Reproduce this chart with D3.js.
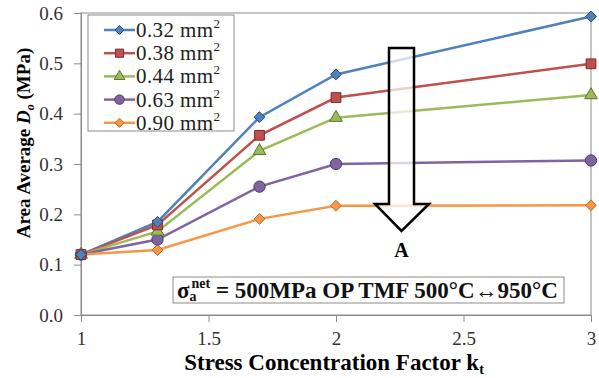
<!DOCTYPE html>
<html>
<head>
<meta charset="utf-8">
<script src="https://cdn.jsdelivr.net/npm/d3@7"></script>
<style>
  body { margin: 0; background: #fff; }
</style>
</head>
<body>
<div id="chart"></div>
<script>
// Area average Do vs stress concentration factor kt

const width = 599;
const height = 378;
const margin = { top: 13, right: 8, bottom: 63, left: 81 };
const serif = 'Liberation Serif';

// data
const ktValues = [1, 1.3, 1.7, 2, 3];
const seriesNames = ['0.32 mm', '0.38 mm', '0.44 mm', '0.63 mm', '0.90 mm'];
const s032 = [0.120, 0.185, 0.393, 0.478, 0.593];
const s038 = [0.120, 0.179, 0.357, 0.432, 0.499];
const s044 = [0.120, 0.166, 0.326, 0.392, 0.437];
const s063 = [0.120, 0.150, 0.255, 0.300, 0.307];
const s090 = [0.120, 0.129, 0.191, 0.217, 0.218];
const xTicks = [1, 1.5, 2, 2.5, 3];
const yTicks = [0, 0.1, 0.2, 0.3, 0.4, 0.5, 0.6];

const seriesValues = [s032, s038, s044, s063, s090];
const colors = ['#4f81bd', '#c0504d', '#9bbb59', '#8064a2', '#f79646'];
const strokeColors = ['#2c4d75', '#772c2a', '#5f7530', '#4d3b62', '#b66d31'];
const shapes = ['diamond', 'square', 'triangle', 'circle', 'diamond'];

// marker path generator: diamonds are squares turned 45 degrees
function marker(shape, scale) {
    const s = scale || 1;
    if (shape === 'diamond') return d3.symbol().type(d3.symbolDiamond2).size(75 * s)();
    if (shape === 'square') return d3.symbol().type(d3.symbolSquare).size(95 * s)();
    if (shape === 'triangle') return d3.symbol().type(d3.symbolTriangle).size(70 * s)();
    return d3.symbol().type(d3.symbolCircle).size(100 * s)();
}

const svg = d3.select('#chart')
    .append('svg')
    .attr('width', width)
    .attr('height', height);

const x = d3.scaleLinear()
    .domain([1, 3])
    .range([margin.left, width - margin.right]);

const y = d3.scaleLinear()
    .domain([0, 0.6])
    .range([height - margin.bottom, margin.top]);

// plot border
svg.append('rect')
    .attr('x', x(1))
    .attr('y', y(0.6))
    .attr('width', x(3) - x(1))
    .attr('height', y(0) - y(0.6))
    .attr('fill', 'none')
    .attr('stroke', '#8c8c8c')
    .attr('stroke-width', 1);

// axes
const xAxis = svg.append('g')
    .attr('transform', `translate(0,${y(0)})`)
    .call(d3.axisBottom(x).tickValues(xTicks).tickSize(7).tickPadding(10)
        .tickFormat(d => String(d)));

const yAxis = svg.append('g')
    .attr('transform', `translate(${x(1)},0)`)
    .call(d3.axisLeft(y).tickValues(yTicks).tickSize(7).tickPadding(11)
        .tickFormat(d3.format('.1f')));

[xAxis, yAxis].forEach(a => {
    a.select('.domain').attr('stroke', '#8c8c8c');
    a.selectAll('.tick line').attr('stroke', '#8c8c8c');
    a.selectAll('.tick text')
        .attr('font-size', '19px')
        .attr('fill', '#333');
});

// annotation box
const annoG = svg.append('g');
annoG.append('rect')
    .attr('x', 173)
    .attr('y', 277)
    .attr('width', 391)
    .attr('height', 26)
    .attr('fill', '#fff')
    .attr('stroke', '#8c8c8c');
const anno = annoG.append('text')
    .attr('x', 177)
    .attr('y', 298)
    .attr('font-size', '23px')
    .attr('font-weight', 'bold')
    .attr('fill', '#111');
anno.append('tspan').text('σ');
anno.append('tspan').attr('font-size', '14px').attr('dy', 3).text('a');
anno.append('tspan').attr('font-size', '14px').attr('dx', -5).attr('dy', -13).text('net');
anno.append('tspan').attr('dy', 10).text(' = 500MPa OP TMF 500°C↔950°C');

// lines
const line = d3.line()
    .x((d, i) => x(ktValues[i]))
    .y(d => y(d));

seriesValues.forEach((vals, k) => {
    svg.append('path')
        .datum(vals)
        .attr('d', line)
        .attr('fill', 'none')
        .attr('stroke', colors[k])
        .attr('stroke-width', 2.5);
});

// markers (drawn bottom-up so blue is on top)
for (let k = seriesValues.length - 1; k >= 0; k--) {
    svg.append('g')
        .selectAll('path')
        .data(seriesValues[k])
        .enter()
        .append('path')
        .attr('transform', (d, i) => `translate(${x(ktValues[i])},${y(d)})`)
        .attr('d', marker(shapes[k]))
        .attr('fill', colors[k])
        .attr('stroke', strokeColors[k])
        .attr('stroke-width', 1);
}

// arrow A (white, partly see-through)
const ax0 = 389, ax1 = 414, ayTop = 48, ayHead = 204, ahx0 = 375, ahx1 = 429, ayTip = 231;
svg.append('path')
    .attr('d', `M${ax0},${ayTop} L${ax1},${ayTop} L${ax1},${ayHead} L${ahx1},${ayHead} L${(ax0 + ax1) / 2},${ayTip} L${ahx0},${ayHead} L${ax0},${ayHead} Z`)
    .attr('fill', '#fff')
    .attr('fill-opacity', 0.72)
    .attr('stroke', '#000')
    .attr('stroke-width', 2.5)
    .attr('stroke-linejoin', 'miter');

svg.append('text')
    .attr('x', (ax0 + ax1) / 2)
    .attr('y', 257)
    .attr('text-anchor', 'middle')
    .attr('font-size', '20px')
    .attr('font-weight', 'bold')
    .text('A');

// legend
const legend = svg.append('g');
legend.append('rect')
    .attr('x', 88)
    .attr('y', 15)
    .attr('width', 146)
    .attr('height', 116)
    .attr('fill', '#fff')
    .attr('stroke', '#8c8c8c');

seriesNames.forEach((name, k) => {
    const ly = 30 + k * 23.2;
    legend.append('line')
        .attr('x1', 104).attr('x2', 135)
        .attr('y1', ly).attr('y2', ly)
        .attr('stroke', colors[k])
        .attr('stroke-width', 2.5);
    legend.append('path')
        .attr('transform', `translate(119.5,${ly})`)
        .attr('d', marker(shapes[k], 0.7))
        .attr('fill', colors[k])
        .attr('stroke', strokeColors[k]);
    const t = legend.append('text')
        .attr('x', 136)
        .attr('y', ly + 7)
        .attr('font-size', '21px')
        .attr('fill', '#222')
        .attr('letter-spacing', '0.4px');
    t.append('tspan').text(name);
    t.append('tspan').attr('font-size', '13px').attr('dy', -9).text('2');
});

// axis titles
svg.append('text')
    .attr('x', 334)
    .attr('y', 370)
    .attr('text-anchor', 'middle')
    .attr('font-size', '23px')
    .attr('font-weight', 'bold')
    .text('Stress Concentration Factor k')
    .append('tspan')
    .attr('font-size', '14px')
    .attr('dy', 4)
    .text('t');

const yt = svg.append('text')
    .attr('transform', 'translate(30,143) rotate(-90)')
    .attr('text-anchor', 'middle')
    .attr('font-size', '19px')
    .attr('font-weight', 'bold');
yt.append('tspan').text('Area Average ');
yt.append('tspan').attr('font-style', 'italic').text('D');
yt.append('tspan').attr('font-style', 'italic').attr('font-size', '12px').attr('dy', 4).text('o');
yt.append('tspan').attr('dy', -4).text(' (MPa)');

// serif face on every text
svg.selectAll('text').style('font-family', serif);
</script>
</body>
</html>
